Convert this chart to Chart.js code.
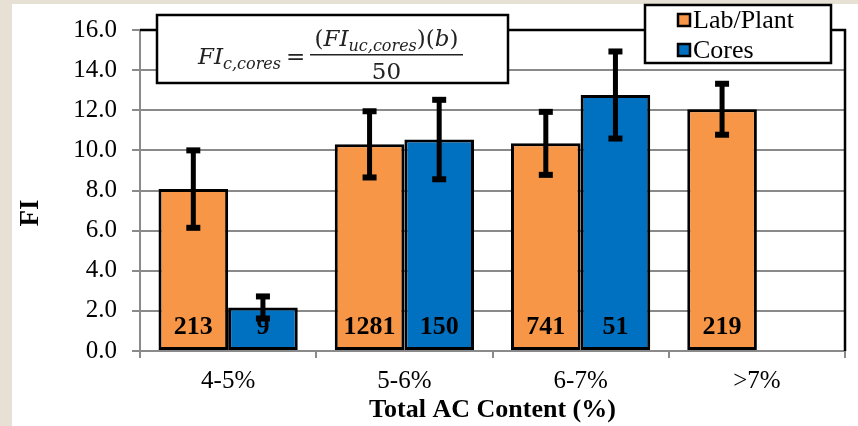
<!DOCTYPE html>
<html>
<head>
<meta charset="utf-8">
<script src="https://cdn.jsdelivr.net/npm/chart.js@4"></script>
<style>
  html, body { margin: 0; padding: 0; background: #e6e0d5; }
  #wrap { width: 858px; height: 426px; }
</style>
</head>
<body>
<div id="wrap"><canvas id="fiChart" width="858" height="426"></canvas></div>
<script>
const categories = ["4-5%", "5-6%", "6-7%", ">7%"];
const seriesNames = ["Lab/Plant", "Cores"];
const labPlant = [8.07, 10.3, 10.35, 12.05];
const labPlantErr = [1.93, 1.65, 1.57, 1.27];
const labPlantCount = [213, 1281, 741, 219];
const cores = [2.17, 10.54, 12.76, null];
const coresErr = [0.55, 1.98, 2.17, null];
const coresCount = [9, 150, 51, null];
const yTicks = [0, 2, 4, 6, 8, 10, 12, 14, 16];

const orange = '#f79646', blue = '#0070c0', gridGray = '#8a8a8a';
const serif = "'Liberation Serif', 'Times New Roman', serif";
const errs = [labPlantErr, coresErr];
const counts = [labPlantCount, coresCount];

// page frame: beige strip on left/top, white panel
const framePlugin = {
    id: 'frame',
    beforeDraw(chart) {
        const c = chart.ctx;
        c.save();
        c.fillStyle = '#e6e0d5';
        c.fillRect(0, 0, chart.width, chart.height);
        c.fillStyle = '#fff';
        c.fillRect(12, 4, chart.width - 12, chart.height - 4);
        c.restore();
    }
};

// black border on top and right of plot area
const borderPlugin = {
    id: 'plotBorder',
    beforeDatasetsDraw(chart) {
        const c = chart.ctx, a = chart.chartArea;
        c.save();
        c.strokeStyle = '#000';
        c.lineWidth = 2.5;
        c.beginPath();
        c.moveTo(a.left, a.top);
        c.lineTo(a.right, a.top);
        c.lineTo(a.right, a.bottom);
        c.stroke();
        c.restore();
    }
};

// error bars + count labels
const errorPlugin = {
    id: 'errorBars',
    afterDatasetsDraw(chart) {
        const c = chart.ctx, y = chart.scales.y;
        c.save();
        chart.data.datasets.forEach((ds, i) => {
            const meta = chart.getDatasetMeta(i);
            meta.data.forEach((bar, j) => {
                const v = ds.data[j];
                if (v == null) return;
                const e = errs[i][j];
                const top = y.getPixelForValue(v + e);
                const bot = y.getPixelForValue(v - e);
                c.fillStyle = '#000';
                c.fillRect(bar.x - 2.5, top, 5, bot - top);
                c.fillRect(bar.x - 7, top - 3, 14, 6);
                c.fillRect(bar.x - 7, bot - 3, 14, 6);
            });
        });
        c.font = 'bold 26px ' + serif;
        c.textAlign = 'center';
        c.textBaseline = 'alphabetic';
        c.fillStyle = '#000';
        chart.data.datasets.forEach((ds, i) => {
            const meta = chart.getDatasetMeta(i);
            meta.data.forEach((bar, j) => {
                const n = counts[i][j];
                if (n == null) return;
                c.fillText(String(n), bar.x, y.getPixelForValue(0) - 17);
            });
        });
        c.restore();
    }
};

function drawRuns(c, runs, x, base) {
    runs.forEach(r => {
        c.font = r.font;
        c.fillText(r.t, x, base + (r.dy || 0));
        x += c.measureText(r.t).width;
    });
    return x;
}
function runsWidth(c, runs) {
    let w = 0;
    runs.forEach(r => { c.font = r.font; w += c.measureText(r.t).width; });
    return w;
}

// formula box, legend and y title
const overlayPlugin = {
    id: 'overlay',
    afterDraw(chart) {
        const c = chart.ctx;
        const mathF = "'DejaVu Serif', serif";
        const it = 'italic 23px ' + mathF, sub = 'italic 16px ' + mathF, up = '23px ' + mathF;
        c.save();
        // formula box
        c.fillStyle = '#fff';
        c.strokeStyle = '#000';
        c.lineWidth = 2.5;
        c.fillRect(157, 15, 351, 68);
        c.strokeRect(157, 15, 351, 68);
        c.fillStyle = '#222';
        c.textAlign = 'left';
        c.textBaseline = 'alphabetic';
        let x = drawRuns(c, [{t: 'FI', font: it}, {t: 'c,cores', font: sub, dy: 5}], 198, 64);
        drawRuns(c, [{t: '=', font: up}], 286, 64);
        const num = [{t: '(', font: up}, {t: 'FI', font: it}, {t: 'uc,cores', font: sub, dy: 5},
                     {t: ')(', font: up}, {t: 'b', font: it}, {t: ')', font: up}];
        const fx0 = 310, fx1 = 463, fc = (fx0 + fx1) / 2;
        drawRuns(c, num, fc - runsWidth(c, num) / 2, 46);
        c.fillRect(fx0, 54, fx1 - fx0, 1.5);
        c.font = up;
        c.textAlign = 'center';
        c.fillText('50', fc, 79);

        // legend
        c.fillStyle = '#fff';
        c.strokeStyle = '#000';
        c.lineWidth = 2.5;
        c.fillRect(645, 5, 186, 58);
        c.strokeRect(645, 5, 186, 58);
        const rows = [20, 50];
        chart.data.datasets.forEach((ds, i) => {
            c.fillStyle = ds.backgroundColor;
            c.fillRect(678, rows[i] - 6, 12, 12);
            c.lineWidth = 2.5;
            c.strokeRect(678, rows[i] - 6, 12, 12);
            c.fillStyle = '#000';
            c.font = '26px ' + serif;
            c.textAlign = 'left';
            c.fillText(ds.label, 693, rows[i] + 7.5);
        });

        // y axis title
        c.translate(31, 213);
        c.rotate(-Math.PI / 2);
        c.font = 'bold 27px ' + serif;
        c.textAlign = 'center';
        c.textBaseline = 'middle';
        c.fillStyle = '#000';
        c.fillText('FI', 0, 0);
        c.restore();
    }
};

const ctx = document.getElementById('fiChart').getContext('2d');
const fiChart = new Chart(ctx, {
    type: 'bar',
    data: {
        labels: categories,
        datasets: [{
            label: seriesNames[0],
            data: labPlant,
            backgroundColor: orange,
            borderColor: '#000',
            borderWidth: 3,
            borderSkipped: false,
            categoryPercentage: 0.79,
            barPercentage: 1.0
        }, {
            label: seriesNames[1],
            data: cores,
            backgroundColor: blue,
            borderColor: '#000',
            borderWidth: 3,
            borderSkipped: false,
            categoryPercentage: 0.79,
            barPercentage: 1.0
        }]
    },
    options: {
        responsive: false,
        animation: false,
        layout: { padding: { left: 0, top: 26, right: 13, bottom: 0 } },
        plugins: {
            legend: { display: false },
            tooltip: { enabled: false }
        },
        scales: {
            x: {
                afterFit(scale) { scale.height = 75; },
                grid: {
                    offset: true,
                    drawOnChartArea: false,
                    drawTicks: true,
                    tickLength: 7,
                    color: gridGray,
                    lineWidth: 2
                },
                border: { display: true, color: gridGray, width: 2 },
                ticks: {
                    color: '#000',
                    padding: 8,
                    font: { family: serif, size: 25 }
                },
                title: {
                    display: true,
                    text: 'Total AC Content (%)',
                    color: '#000',
                    font: { family: serif, size: 26, weight: 'bold' },
                    padding: { top: 9, bottom: 0 }
                }
            },
            y: {
                min: 0,
                max: 16,
                afterFit(scale) { scale.width = 140; },
                afterBuildTicks(scale) { scale.ticks = yTicks.map(v => ({ value: v })); },
                grid: {
                    color: gridGray,
                    lineWidth: 2,
                    drawTicks: true,
                    tickLength: 8
                },
                border: { display: true, color: gridGray, width: 2 },
                ticks: {
                    color: '#000',
                    padding: 15,
                    font: { family: serif, size: 25 },
                    callback: v => Number(v).toFixed(1)
                }
            }
        }
    },
    plugins: [framePlugin, borderPlugin, errorPlugin, overlayPlugin]
});
</script>
</body>
</html>
